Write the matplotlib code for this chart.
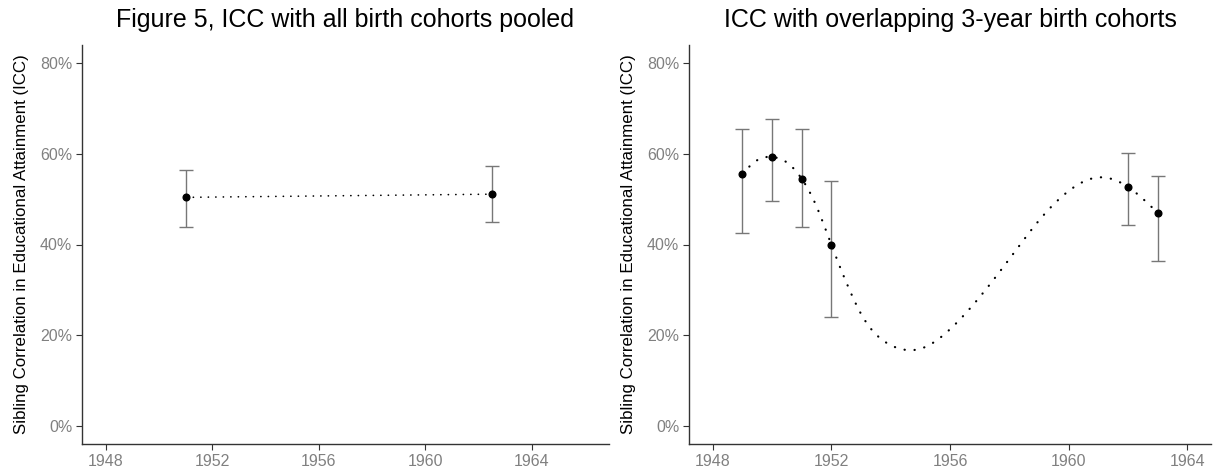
import numpy as np
import matplotlib
matplotlib.use("Agg")
import matplotlib.pyplot as plt
from matplotlib.ticker import FuncFormatter

# ---- data ----
pooled_year = [1951.0, 1962.5]
pooled_icc = [50.4, 51.1]
pooled_lo = [43.8, 44.9]
pooled_hi = [56.4, 57.3]

cohort_year = [1949, 1950, 1951, 1952, 1962, 1963]
cohort_icc = [55.6, 59.3, 54.5, 39.9, 52.7, 47.0]
cohort_lo = [42.6, 49.6, 43.8, 24.1, 44.4, 36.4]
cohort_hi = [65.5, 67.6, 65.5, 54.0, 60.2, 55.1]

# smoothed trend curve
curve_year = [1949, 1949.5, 1950, 1950.5, 1951, 1951.5, 1952, 1952.5, 1953, 1954,
              1954.6, 1955, 1956, 1957, 1958, 1959, 1960, 1961, 1962, 1962.5, 1963]
curve_icc = [55.6, 58.6, 59.3, 58.1, 54.5, 48.4, 39.9, 31.7, 24.7, 17.8,
             16.7, 17.0, 21.3, 28.4, 36.8, 45.3, 51.8, 54.8, 52.7, 50.1, 47.0]

x_ticks = [1948, 1952, 1956, 1960, 1964]
y_ticks = [0, 20, 40, 60, 80]

titles = ["Figure 5, ICC with all birth cohorts pooled",
          "ICC with overlapping 3-year birth cohorts"]
ylabel = "Sibling Correlation in Educational Attainment (ICC)"


def natural_spline(x, y, n=600):
    """Smooth rendering of a curve through given points (natural cubic spline)."""
    x = np.asarray(x, float); y = np.asarray(y, float)
    k = len(x); h = np.diff(x)
    A = np.zeros((k, k)); b = np.zeros(k)
    A[0, 0] = 1; A[-1, -1] = 1
    for i in range(1, k - 1):
        A[i, i - 1] = h[i - 1]
        A[i, i] = 2 * (h[i - 1] + h[i])
        A[i, i + 1] = h[i]
        b[i] = 6 * ((y[i + 1] - y[i]) / h[i] - (y[i] - y[i - 1]) / h[i - 1])
    M = np.linalg.solve(A, b)
    xs = np.linspace(x[0], x[-1], n)
    idx = np.clip(np.searchsorted(x, xs) - 1, 0, k - 2)
    x0 = x[idx]; x1 = x[idx + 1]; hh = x1 - x0
    t0 = x1 - xs; t1 = xs - x0
    ys = (M[idx] * t0 ** 3 + M[idx + 1] * t1 ** 3) / (6 * hh) \
        + (y[idx] / hh - M[idx] * hh / 6) * t0 + (y[idx + 1] / hh - M[idx + 1] * hh / 6) * t1
    return xs, ys


plt.rcParams['font.family'] = ['Liberation Sans', 'DejaVu Sans']
fig = plt.figure(figsize=(12.15, 4.76), dpi=100)
ax1 = fig.add_axes([82 / 1215, 32 / 476, 527 / 1215, 399 / 476])
ax2 = fig.add_axes([689 / 1215, 32 / 476, 522 / 1215, 399 / 476])

err_col = "#777777"
dot_style = (0, (0.1, 4.4))


def style(ax, xlim):
    ax.set_xlim(*xlim)
    ax.set_ylim(-4, 84)
    ax.set_xticks(x_ticks)
    ax.set_yticks(y_ticks)
    ax.yaxis.set_major_formatter(FuncFormatter(lambda v, p: f"{v:.0f}%"))
    for s in ["top", "right"]:
        ax.spines[s].set_visible(False)
    for s in ["left", "bottom"]:
        ax.spines[s].set_color("#333333")
        ax.spines[s].set_linewidth(1.0)
    ax.tick_params(axis="both", colors="#333333", labelcolor="#808080",
                   labelsize=11.5, length=4, width=0.8, pad=3)
    ax.set_ylabel(ylabel, fontsize=12.2, color="black", labelpad=8)


def errbars(ax, x, y, lo, hi):
    ax.errorbar(x, y, yerr=[np.subtract(y, lo), np.subtract(hi, y)],
                fmt="none", ecolor=err_col, elinewidth=1.0, capsize=4.8,
                capthick=1.0, zorder=2)


# left panel
errbars(ax1, pooled_year, pooled_icc, pooled_lo, pooled_hi)
ax1.plot(pooled_year, pooled_icc, color="black", lw=1.2, linestyle=dot_style,
         dash_capstyle="round", zorder=3)
ax1.plot(pooled_year, pooled_icc, "o", color="black", ms=4.8, zorder=4)
style(ax1, (1947.1, 1966.9))
ax1.set_title(titles[0], fontsize=18, pad=13)

# right panel
xs, ys = natural_spline(curve_year, curve_icc)
errbars(ax2, cohort_year, cohort_icc, cohort_lo, cohort_hi)
ax2.plot(xs, ys, color="black", lw=1.6, linestyle=dot_style,
         dash_capstyle="round", zorder=3)
ax2.plot(cohort_year, cohort_icc, "o", color="black", ms=4.8, zorder=4)
style(ax2, (1947.2, 1964.8))
ax2.set_title(titles[1], fontsize=18, pad=13)

fig.savefig("out.png", dpi=100)
